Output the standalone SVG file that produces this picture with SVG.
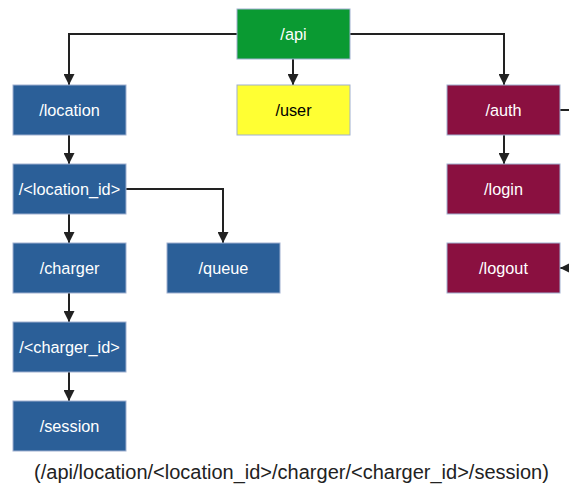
<svg xmlns="http://www.w3.org/2000/svg" width="569" height="485" viewBox="0 0 569 485">
<style>
.n rect{stroke:#9fb0d0;stroke-width:1}
.b rect{fill:#2b5f98}
.g rect{fill:#0a9a32}
.y rect{fill:#ffff33}
.m rect{fill:#8a1040}
.n text{font-family:"Liberation Sans",Arial,sans-serif;font-size:16.3px;fill:#fff;text-anchor:middle;dominant-baseline:central}
.y text{fill:#000}
.c path{fill:none;stroke:#222;stroke-width:2}
.cap{font-family:"Liberation Sans",Arial,sans-serif;font-size:20px;fill:#222;text-anchor:middle}
</style>
<defs>
<marker id="ah" viewBox="0 0 10 10" refX="10" refY="5" markerWidth="5.5" markerHeight="5.5" orient="auto" markerUnits="strokeWidth">
<path d="M0,0 L10,5 L0,10 Z" fill="#222"/>
</marker>
</defs>
<rect width="569" height="485" fill="#fff"/>
<g class="c">
<path d="M237,34 H69 V85" marker-end="url(#ah)"/>
<path d="M293,59 V85" marker-end="url(#ah)"/>
<path d="M350,34 H504 V85" marker-end="url(#ah)"/>
<path d="M560,110 H578 V268 H560" marker-end="url(#ah)"/>
<path d="M504,135 V164" marker-end="url(#ah)"/>
<path d="M69,135 V164" marker-end="url(#ah)"/>
<path d="M126,189 H223 V243" marker-end="url(#ah)"/>
<path d="M69,214 V243" marker-end="url(#ah)"/>
<path d="M69,293 V322" marker-end="url(#ah)"/>
<path d="M69,372 V401" marker-end="url(#ah)"/>
</g>
<g id="api" class="n g"><rect x="237" y="9" width="113" height="50"/><text x="293.5" y="34">/api</text></g>
<g id="location" class="n b"><rect x="13" y="85" width="113" height="50"/><text x="69.5" y="110">/location</text></g>
<g id="user" class="n y"><rect x="237" y="85" width="113" height="50"/><text x="293.5" y="110">/user</text></g>
<g id="auth" class="n m"><rect x="447" y="85" width="113" height="50"/><text x="503.5" y="110">/auth</text></g>
<g id="location_id" class="n b"><rect x="13" y="164" width="113" height="50"/><text x="69.5" y="189">/&lt;location_id&gt;</text></g>
<g id="login" class="n m"><rect x="447" y="164" width="113" height="50"/><text x="503.5" y="189">/login</text></g>
<g id="charger" class="n b"><rect x="13" y="243" width="113" height="50"/><text x="69.5" y="268">/charger</text></g>
<g id="queue" class="n b"><rect x="167" y="243" width="113" height="50"/><text x="223.5" y="268">/queue</text></g>
<g id="logout" class="n m"><rect x="447" y="243" width="113" height="50"/><text x="503.5" y="268">/logout</text></g>
<g id="charger_id" class="n b"><rect x="13" y="322" width="113" height="50"/><text x="69.5" y="347">/&lt;charger_id&gt;</text></g>
<g id="session" class="n b"><rect x="13" y="401" width="113" height="50"/><text x="69.5" y="426">/session</text></g>
<text class="cap" x="291.5" y="479">(/api/location/&lt;location_id&gt;/charger/&lt;charger_id&gt;/session)</text>
</svg>
